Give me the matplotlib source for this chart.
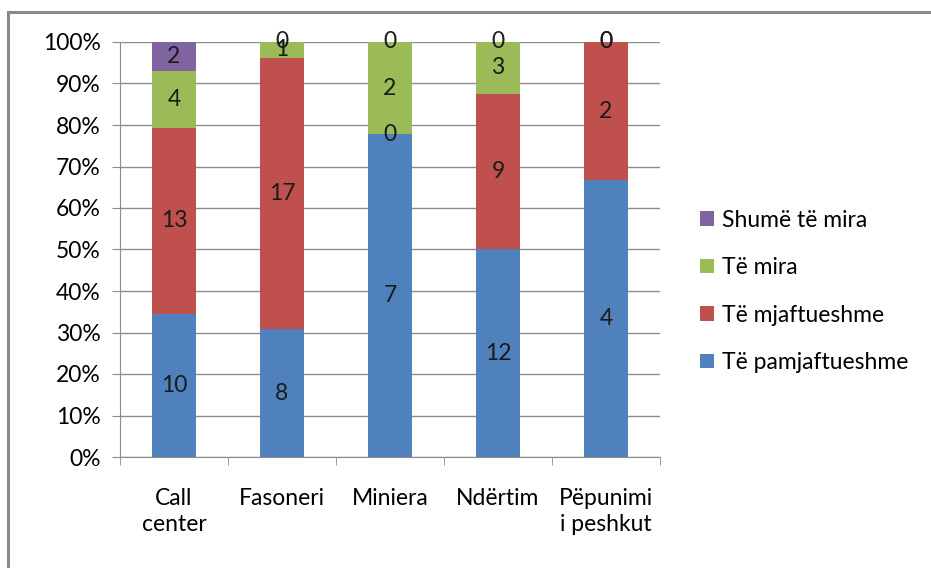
import numpy as np
import matplotlib.pyplot as plt
from matplotlib.patches import Rectangle

# ── Daten ───────────────────────────────────────────────────────────────────
kategorien = ["Call\ncenter", "Fasoneri", "Miniera", "Ndërtim", "Pëpunimi\ni peshkut"]
serien = ["Të pamjaftueshme", "Të mjaftueshme", "Të mira", "Shumë të mira"]
pamjaftueshme = [10, 8, 7, 12, 4]
mjaftueshme = [13, 17, 0, 9, 2]
mira = [4, 1, 2, 3, 0]
shume_mira = [2, 0, 0, 0, 0]
farben = ["#4F81BD", "#C0504D", "#9BBB59", "#8064A2"]

werte = np.array([pamjaftueshme, mjaftueshme, mira, shume_mira], dtype=float)
summe = werte.sum(axis=0)
anteil = werte / summe * 100

plt.rcParams["font.family"] = ["Lato", "DejaVu Sans"]
fs = 16.5

fig = plt.figure(figsize=(9.31, 5.68), dpi=100)
ax = fig.add_axes([120 / 931, 1 - 457 / 568, 540 / 931, 415 / 568])

# Rahmen um die Grafik
fig.patches.append(Rectangle((8 / 931, -0.05), 1.0, 1 - 12 / 568 + 0.05,
                             transform=fig.transFigure, fill=False,
                             edgecolor="#8a8a8a", linewidth=2.2, zorder=0))

x = np.arange(len(kategorien))
unten = np.zeros(len(kategorien))
for i, name in enumerate(serien):
    ax.bar(x, anteil[i], bottom=unten, width=0.4, color=farben[i],
           label=name, zorder=2)
    for j in range(len(kategorien)):
        mitte = unten[j] + anteil[i][j] / 2
        ax.text(x[j], mitte, f"{int(werte[i][j])}", ha="center", va="center",
                fontsize=fs, color="#1a1a1a", zorder=3)
    unten += anteil[i]

ax.set_xlim(-0.5, len(kategorien) - 0.5)
ax.set_ylim(0, 100)
ax.set_yticks(np.arange(0, 101, 10))
ax.set_yticklabels([f"{v}%" for v in range(0, 101, 10)], fontsize=fs)
ax.yaxis.grid(True, color="#8c8c8c", linewidth=1)
ax.set_axisbelow(True)

ax.set_xticks(x)
ax.set_xticklabels(kategorien, fontsize=fs, linespacing=1.3)
ax.set_xticks(np.arange(-0.5, len(kategorien)), minor=True)
ax.tick_params(axis="x", which="major", length=0, pad=22)
ax.tick_params(axis="x", which="minor", length=6, color="#8c8c8c")
ax.tick_params(axis="y", length=6, color="#8c8c8c", pad=8)

for s in ["top", "right"]:
    ax.spines[s].set_visible(False)
for s in ["left", "bottom"]:
    ax.spines[s].set_color("#8c8c8c")

h, l = ax.get_legend_handles_labels()
fig.legend(h[::-1], l[::-1], loc="center left", bbox_to_anchor=(0.73, 0.487),
           frameon=False, fontsize=fs, handlelength=0.6, handleheight=0.6,
           handletextpad=0.35, labelspacing=1.15)

fig.savefig("out.png", dpi=100)
